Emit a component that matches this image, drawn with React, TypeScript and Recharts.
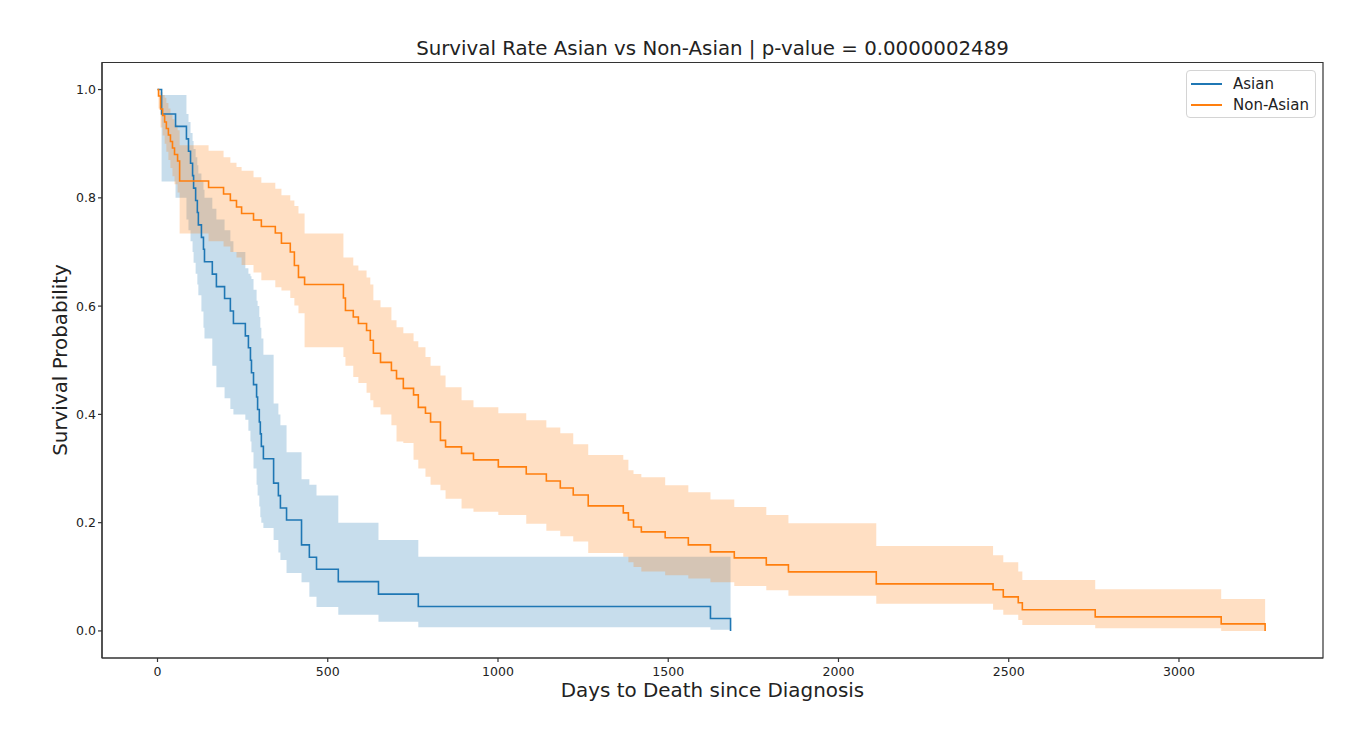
import React from 'react';
import { ComposedChart, Area, Line, XAxis, YAxis, ReferenceArea, Legend } from 'recharts';

const BLUE = '#1f77b4';
const ORANGE = '#ff7f0e';
const FONT = '"DejaVu Sans", Verdana, sans-serif';

const TITLE = 'Survival Rate Asian vs Non-Asian | p-value = 0.0000002489';
const X_LABEL = 'Days to Death since Diagnosis';
const Y_LABEL = 'Survival Probability';

const xTicks = [0, 500, 1000, 1500, 2000, 2500, 3000];
const yTicks = [0, 0.2, 0.4, 0.6, 0.8, 1.0];

// Asian group (Kaplan-Meier estimate and confidence band)
const asianDays = [0, 12, 53, 85, 91, 97, 103, 106, 112, 117, 120, 129, 135, 138, 161, 173, 197, 214, 223, 258, 267, 273, 276, 282, 291, 294, 299, 302, 305, 311, 341, 355, 361, 379, 423, 446, 467, 531, 649, 766, 1624, 1683];
const asianSurv = [1.0, 0.955, 0.932, 0.909, 0.886, 0.864, 0.841, 0.818, 0.795, 0.773, 0.75, 0.727, 0.705, 0.682, 0.659, 0.636, 0.614, 0.591, 0.568, 0.545, 0.523, 0.5, 0.477, 0.455, 0.432, 0.409, 0.386, 0.364, 0.341, 0.318, 0.273, 0.25, 0.227, 0.205, 0.159, 0.136, 0.114, 0.091, 0.068, 0.045, 0.023, 0];
const asianUpper = [1.0, 0.99, 0.99, 0.955, 0.94, 0.92, 0.905, 0.89, 0.875, 0.86, 0.845, 0.83, 0.815, 0.8, 0.78, 0.76, 0.74, 0.72, 0.7, 0.67, 0.66, 0.655, 0.65, 0.63, 0.61, 0.6, 0.58, 0.56, 0.54, 0.51, 0.42, 0.4, 0.38, 0.33, 0.28, 0.27, 0.25, 0.2, 0.168, 0.137, 0.137, 0.137];
const asianLower = [1.0, 0.83, 0.8, 0.76, 0.74, 0.72, 0.7, 0.68, 0.66, 0.64, 0.62, 0.59, 0.56, 0.54, 0.49, 0.45, 0.43, 0.41, 0.4, 0.39, 0.37, 0.35, 0.33, 0.3, 0.27, 0.25, 0.23, 0.21, 0.2, 0.19, 0.168, 0.145, 0.131, 0.107, 0.09, 0.063, 0.044, 0.03, 0.017, 0.007, 0.002, 0.002];

// Non-Asian group
const nonAsianDays = [0, 3, 9, 15, 21, 26, 32, 38, 44, 50, 59, 65, 150, 194, 214, 232, 247, 282, 305, 346, 364, 390, 402, 414, 432, 546, 552, 575, 590, 614, 625, 634, 655, 687, 702, 722, 752, 766, 787, 802, 831, 846, 893, 928, 1001, 1083, 1142, 1183, 1221, 1265, 1368, 1383, 1398, 1421, 1491, 1559, 1624, 1694, 1788, 1853, 2111, 2454, 2484, 2528, 2540, 2754, 3124, 3253];
const nonAsianSurv = [1.0, 0.988, 0.964, 0.952, 0.94, 0.928, 0.916, 0.904, 0.892, 0.88, 0.868, 0.831, 0.819, 0.807, 0.795, 0.783, 0.771, 0.759, 0.747, 0.735, 0.716, 0.7, 0.675, 0.653, 0.64, 0.615, 0.592, 0.58, 0.568, 0.555, 0.537, 0.513, 0.496, 0.481, 0.466, 0.448, 0.436, 0.413, 0.402, 0.386, 0.352, 0.34, 0.328, 0.316, 0.303, 0.29, 0.277, 0.264, 0.251, 0.231, 0.218, 0.205, 0.192, 0.183, 0.172, 0.159, 0.146, 0.135, 0.122, 0.109, 0.087, 0.076, 0.063, 0.052, 0.039, 0.026, 0.013, 0];
const nonAsianUpper = [1.0, 1.0, 0.995, 0.99, 0.985, 0.975, 0.965, 0.955, 0.945, 0.935, 0.925, 0.897, 0.887, 0.875, 0.865, 0.857, 0.85, 0.838, 0.828, 0.817, 0.805, 0.795, 0.785, 0.771, 0.734, 0.69, 0.69, 0.675, 0.666, 0.653, 0.64, 0.611, 0.598, 0.574, 0.561, 0.55, 0.535, 0.524, 0.506, 0.49, 0.472, 0.45, 0.426, 0.413, 0.402, 0.389, 0.376, 0.365, 0.345, 0.325, 0.316, 0.297, 0.29, 0.284, 0.269, 0.256, 0.243, 0.229, 0.214, 0.199, 0.157, 0.14, 0.127, 0.11, 0.094, 0.077, 0.059, 0.059];
const nonAsianLower = [1.0, 0.965, 0.93, 0.915, 0.9, 0.885, 0.87, 0.855, 0.84, 0.825, 0.81, 0.734, 0.72, 0.71, 0.7, 0.69, 0.676, 0.662, 0.648, 0.635, 0.629, 0.615, 0.601, 0.587, 0.524, 0.506, 0.49, 0.469, 0.458, 0.44, 0.426, 0.413, 0.4, 0.38, 0.35, 0.347, 0.316, 0.3, 0.285, 0.27, 0.26, 0.244, 0.226, 0.22, 0.214, 0.198, 0.185, 0.175, 0.165, 0.144, 0.137, 0.127, 0.118, 0.11, 0.103, 0.097, 0.09, 0.083, 0.075, 0.065, 0.05, 0.039, 0.03, 0.02, 0.011, 0.005, 0, 0];

const seriesNames = ['Asian', 'Non-Asian'];
const seriesColors = [BLUE, ORANGE];

const asianData = asianDays.map((d, i) => ({ day: d, s: asianSurv[i], band: [asianLower[i], asianUpper[i]] }));
const nonAsianData = nonAsianDays.map((d, i) => ({ day: d, s: nonAsianSurv[i], band: [nonAsianLower[i], nonAsianUpper[i]] }));

const tickStyle = { fontFamily: FONT, fontSize: 12.5, fill: '#222' };

const LegendBox = () => (
  <div
    style={{
      boxSizing: 'border-box',
      width: 130,
      height: 48,
      border: '1px solid #d4d4d4',
      borderRadius: 4,
      background: 'rgba(255,255,255,0.85)',
      padding: '2px 0 0 4px',
      fontFamily: FONT,
      fontSize: 15,
      color: '#222',
    }}
  >
    {seriesNames.map((n, i) => (
      <div key={n} style={{ display: 'flex', alignItems: 'center', height: 21 }}>
        <span style={{ display: 'inline-block', width: 31, height: 0, borderTop: `2px solid ${seriesColors[i]}`, marginRight: 11 }} />
        <span>{n}</span>
      </div>
    ))}
  </div>
);

const frameLine = (left: number, top: number, width: number, height: number) => (
  <div style={{ position: 'absolute', left, top, width, height, background: '#5a5a5a', zIndex: 20, pointerEvents: 'none' }} />
);

export default function App() {
  React.useEffect(() => {
    document.body.style.overflow = 'hidden';
  }, []);
  return (
    <div style={{ position: 'relative', width: 1371, height: 731, margin: '-8px 0 0 -8px', overflow: 'hidden' }}>
      <ComposedChart width={1371} height={731} margin={{ top: 62.5, right: 48, bottom: 43, left: 42 }}>
        <XAxis
          type="number"
          dataKey="day"
          domain={[-163, 3423]}
          allowDataOverflow
          ticks={xTicks}
          tick={tickStyle}
          tickSize={4}
          tickMargin={5}
          height={30}
          stroke="#333"
          strokeWidth={1.2}
        />
        <YAxis
          type="number"
          domain={[-0.05, 1.05]}
          allowDataOverflow
          ticks={yTicks}
          tickFormatter={(v: number) => v.toFixed(1)}
          tick={tickStyle}
          tickSize={4}
          tickMargin={2}
          width={60}
          stroke="#333"
          strokeWidth={1.2}
        />
        <ReferenceArea x1={-163} x2={3423} y1={-0.05} y2={1.05} fill="none" stroke="#333" strokeWidth={1.2} ifOverflow="extendDomain" />
        <Area data={asianData} dataKey="band" type="stepAfter" fill={BLUE} fillOpacity={0.25} stroke="none" isAnimationActive={false} activeDot={false} dot={false} />
        <Line data={asianData} dataKey="s" type="stepAfter" stroke={BLUE} strokeWidth={1.6} dot={false} activeDot={false} isAnimationActive={false} />
        <Area data={nonAsianData} dataKey="band" type="stepAfter" fill={ORANGE} fillOpacity={0.25} stroke="none" isAnimationActive={false} activeDot={false} dot={false} />
        <Line data={nonAsianData} dataKey="s" type="stepAfter" stroke={ORANGE} strokeWidth={1.6} dot={false} activeDot={false} isAnimationActive={false} />
        <text x={712.5} y={55} textAnchor="middle" fontFamily={FONT} fontSize={19.8} fill="#222">{TITLE}</text>
        <text x={712.5} y={697} textAnchor="middle" fontFamily={FONT} fontSize={19.9} fill="#222">{X_LABEL}</text>
        <text x={60} y={360} textAnchor="middle" dominantBaseline="central" transform="rotate(-90, 60, 360)" fontFamily={FONT} fontSize={19.9} fill="#222">{Y_LABEL}</text>
        <Legend
          layout="vertical"
          align="center"
          verticalAlign="middle"
          content={() => <LegendBox />}
          wrapperStyle={{ position: 'absolute', left: 1186, top: 70, width: 130, height: 48 }}
        />
      </ComposedChart>
      {frameLine(6, 6, 1361, 2)}
      {frameLine(6, 6, 2, 725)}
      {frameLine(1364, 6, 2, 725)}
    </div>
  );
}
